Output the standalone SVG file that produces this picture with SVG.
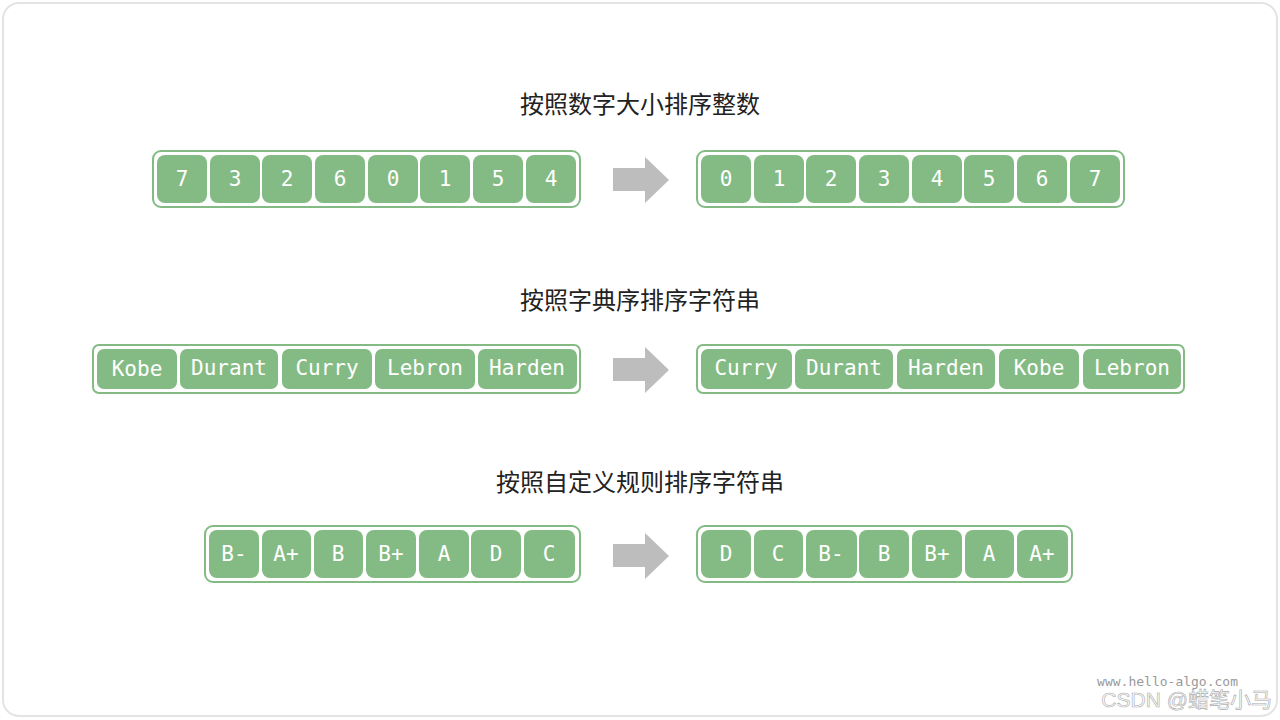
<svg xmlns="http://www.w3.org/2000/svg" width="1280" height="720" viewBox="0 0 1280 720">
<defs>
<style>
.bg{fill:#fff;stroke:#e4e4e4;stroke-width:2}
.box{fill:#fff;stroke:#84bb84;stroke-width:2}
.c{fill:#84bb84}
.t{font-family:"DejaVu Sans Mono","Liberation Mono",monospace;font-size:21px;fill:#fff;text-anchor:middle;dominant-baseline:central}
.h{font-family:"Noto Sans CJK SC",sans-serif;font-size:24px;fill:#222;text-anchor:middle}
.ar{fill:#bdbdbd}
</style>
<g id="arrow"><path class="ar" d="M613 168H645V157L669 180L645 203V191H613Z"/></g>
</defs>
<rect class="bg" x="3" y="3" width="1274" height="713" rx="16"/>
<text class="h" x="640" y="113">按照数字大小排序整数</text>
<text class="h" x="640" y="309">按照字典序排序字符串</text>
<text class="h" x="640" y="491">按照自定义规则排序字符串</text>
<g id="connectors">
<use href="#arrow"/>
<use href="#arrow" y="190"/>
<use href="#arrow" y="376"/>
</g>
<g id="row1-left">
<rect class="box" x="153" y="151" width="427" height="56" rx="8"/>
<rect class="c" x="157" y="155" width="50" height="48" rx="8"/><text class="t" x="182" y="179">7</text>
<rect class="c" x="210" y="155" width="50" height="48" rx="8"/><text class="t" x="235" y="179">3</text>
<rect class="c" x="262" y="155" width="50" height="48" rx="8"/><text class="t" x="287" y="179">2</text>
<rect class="c" x="315" y="155" width="50" height="48" rx="8"/><text class="t" x="340" y="179">6</text>
<rect class="c" x="368" y="155" width="50" height="48" rx="8"/><text class="t" x="393" y="179">0</text>
<rect class="c" x="420" y="155" width="50" height="48" rx="8"/><text class="t" x="445" y="179">1</text>
<rect class="c" x="473" y="155" width="50" height="48" rx="8"/><text class="t" x="498" y="179">5</text>
<rect class="c" x="526" y="155" width="50" height="48" rx="8"/><text class="t" x="551" y="179">4</text>
</g>
<g id="row1-right">
<rect class="box" x="697" y="151" width="427" height="56" rx="8"/>
<rect class="c" x="701" y="155" width="50" height="48" rx="8"/><text class="t" x="726" y="179">0</text>
<rect class="c" x="754" y="155" width="50" height="48" rx="8"/><text class="t" x="779" y="179">1</text>
<rect class="c" x="806" y="155" width="50" height="48" rx="8"/><text class="t" x="831" y="179">2</text>
<rect class="c" x="859" y="155" width="50" height="48" rx="8"/><text class="t" x="884" y="179">3</text>
<rect class="c" x="912" y="155" width="50" height="48" rx="8"/><text class="t" x="937" y="179">4</text>
<rect class="c" x="964" y="155" width="50" height="48" rx="8"/><text class="t" x="989" y="179">5</text>
<rect class="c" x="1017" y="155" width="50" height="48" rx="8"/><text class="t" x="1042" y="179">6</text>
<rect class="c" x="1070" y="155" width="50" height="48" rx="8"/><text class="t" x="1095" y="179">7</text>
</g>
<g id="row2-left">
<rect class="box" x="93" y="345" width="487" height="48" rx="6"/>
<rect class="c" x="97" y="349" width="80" height="40" rx="7"/><text class="t" x="137" y="369">Kobe</text>
<rect class="c" x="180" y="349" width="98" height="40" rx="7"/><text class="t" x="229" y="368">Durant</text>
<rect class="c" x="282" y="349" width="90" height="40" rx="7"/><text class="t" x="327" y="368">Curry</text>
<rect class="c" x="375" y="349" width="100" height="40" rx="7"/><text class="t" x="425" y="368">Lebron</text>
<rect class="c" x="478" y="349" width="99" height="40" rx="7"/><text class="t" x="527" y="368">Harden</text>
</g>
<g id="row2-right">
<rect class="box" x="697" y="345" width="487" height="48" rx="6"/>
<rect class="c" x="701" y="349" width="91" height="40" rx="7"/><text class="t" x="746" y="368">Curry</text>
<rect class="c" x="795" y="349" width="98" height="40" rx="7"/><text class="t" x="844" y="368">Durant</text>
<rect class="c" x="897" y="349" width="98" height="40" rx="7"/><text class="t" x="946" y="368">Harden</text>
<rect class="c" x="999" y="349" width="80" height="40" rx="7"/><text class="t" x="1039" y="368">Kobe</text>
<rect class="c" x="1083" y="349" width="98" height="40" rx="7"/><text class="t" x="1132" y="368">Lebron</text>
</g>
<g id="row3-left">
<rect class="box" x="205" y="526" width="375" height="56" rx="8"/>
<rect class="c" x="209" y="530" width="50" height="48" rx="8"/><text class="t" x="234" y="554">B-</text>
<rect class="c" x="262" y="530" width="49" height="48" rx="8"/><text class="t" x="286" y="554">A+</text>
<rect class="c" x="314" y="530" width="49" height="48" rx="8"/><text class="t" x="338" y="554">B</text>
<rect class="c" x="366" y="530" width="50" height="48" rx="8"/><text class="t" x="391" y="554">B+</text>
<rect class="c" x="419" y="530" width="50" height="48" rx="8"/><text class="t" x="444" y="554">A</text>
<rect class="c" x="471" y="530" width="50" height="48" rx="8"/><text class="t" x="496" y="554">D</text>
<rect class="c" x="524" y="530" width="51" height="48" rx="8"/><text class="t" x="549" y="554">C</text>
</g>
<g id="row3-right">
<rect class="box" x="697" y="526" width="375" height="56" rx="8"/>
<rect class="c" x="701" y="530" width="50" height="48" rx="8"/><text class="t" x="726" y="554">D</text>
<rect class="c" x="754" y="530" width="49" height="48" rx="8"/><text class="t" x="778" y="554">C</text>
<rect class="c" x="806" y="530" width="51" height="48" rx="8"/><text class="t" x="831" y="554">B-</text>
<rect class="c" x="859" y="530" width="50" height="48" rx="8"/><text class="t" x="884" y="554">B</text>
<rect class="c" x="912" y="530" width="50" height="48" rx="8"/><text class="t" x="937" y="554">B+</text>
<rect class="c" x="965" y="530" width="49" height="48" rx="8"/><text class="t" x="989" y="554">A</text>
<rect class="c" x="1017" y="530" width="51" height="48" rx="8"/><text class="t" x="1042" y="554">A+</text>
</g>
<text x="1238" y="686" font-family="DejaVu Sans Mono,monospace" font-size="13" fill="#999" text-anchor="end">www.hello-algo.com</text>
<text x="1272" y="707" font-family="Liberation Sans,Noto Sans CJK SC,sans-serif" font-size="21" fill="#fff" stroke="#aaa" stroke-width="0.6" text-anchor="end">CSDN @蜡笔小马</text>
</svg>
